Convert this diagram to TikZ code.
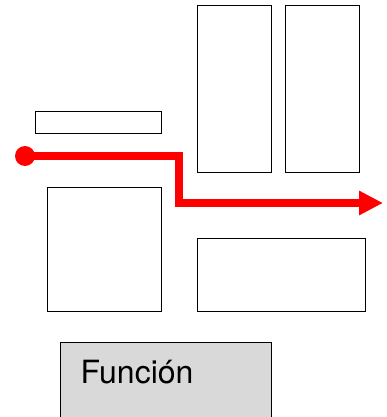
\documentclass[tikz,border=0pt]{standalone}
\usepackage{xcolor}
\usepackage{fontspec}
\setmainfont{TeX Gyre Heros}
\usepackage{tikz}
\usetikzlibrary{positioning,arrows.meta}
\definecolor{rojo}{RGB}{255,0,0}
\definecolor{gris}{RGB}{217,217,217}

\begin{document}
\begin{tikzpicture}[x=1pt, y=-1pt,
  caja/.style={rectangle, draw=black, line width=1.4pt, inner sep=0pt,
    anchor=north west},
  ruta/.style={draw=rojo, line width=8pt,
    -{Triangle[length=24pt, width=23pt]}},
]
\useasboundingbox (0,0) rectangle (387,417);
\node[caja, minimum width=126, minimum height=22] (barra) at (35,111) {};
\node[caja, minimum width=74, minimum height=167] (torre1) at (197,5) {};
\node[caja, minimum width=74, minimum height=167] (torre2) at (285,5) {};
\node[caja, minimum width=114, minimum height=124] (cuadro) at (47,187) {};
\node[caja, minimum width=168, minimum height=73] (ancho) at (197,238) {};
\node[caja, fill=gris, minimum width=211, minimum height=77] (funcion) at (60,342) {};
\node[anchor=base west, inner sep=0pt, font=\fontsize{32}{34}\selectfont] (etiqueta) at (80.5,383.3) {Función};
% recorrido
\node[circle, fill=rojo, minimum size=20, inner sep=0pt] (punto) at (25,156) {};
\coordinate (codo) at (179,203);
\coordinate (fin) at (383,203);
\draw[ruta] (punto.center) -| (codo) -- (fin);
\end{tikzpicture}
\end{document}
